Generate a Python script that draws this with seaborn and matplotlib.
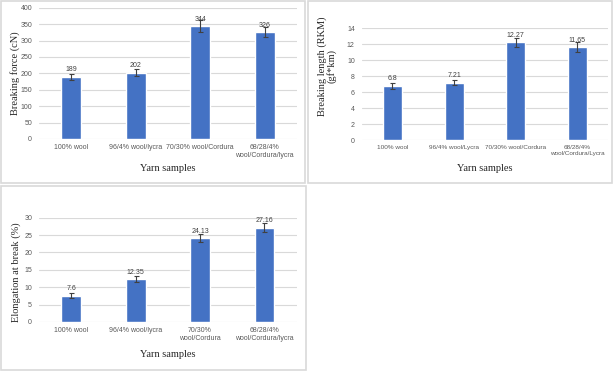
import matplotlib
matplotlib.use("Agg")
import matplotlib.pyplot as plt
import seaborn as sns
import numpy as np
from matplotlib.patches import Rectangle

sns.set_theme(style="white")
plt.rcParams['font.family'] = ['Liberation Sans', 'DejaVu Sans']

# ---- data ----
cats1 = ["100% wool", "96/4% wool/lycra", "70/30% wool/Cordura", "68/28/4%\nwool/Cordura/lycra"]
force = [189, 202, 344, 326]
force_err = [10, 10, 18, 16]
force_lbl = ["189", "202", "344", "326"]
force_ticks = [0, 50, 100, 150, 200, 250, 300, 350, 400]

cats2 = ["100% wool", "96/4% wool/Lycra", "70/30% wool/Cordura", "68/28/4%\nwool/Cordura/Lycra"]
rkm = [6.8, 7.21, 12.27, 11.65]
rkm_err = [0.4, 0.3, 0.55, 0.65]
rkm_lbl = ["6.8", "7.21", "12.27", "11.65"]
rkm_ticks = [0, 2, 4, 6, 8, 10, 12, 14]

cats3 = ["100% wool", "96/4% wool/lycra", "70/30%\nwool/Cordura", "68/28/4%\nwool/Cordura/lycra"]
elong = [7.6, 12.35, 24.13, 27.16]
elong_err = [0.6, 0.8, 1.2, 1.35]
elong_lbl = ["7.6", "12.35", "24.13", "27.16"]
elong_ticks = [0, 5, 10, 15, 20, 25, 30]

BAR = "#4472C4"
GRID = "#D9D9D9"
TXT = "#595959"
DARK = "#404040"

W, H = 616, 378
fig = plt.figure(figsize=(W / 100, H / 100), dpi=100)


def px_axes(x0, y_top, x1, y_bot):
    return fig.add_axes([x0 / W, 1 - y_bot / H, (x1 - x0) / W, (y_bot - y_top) / H])


def border(x0, y0, x1, y1):
    fig.patches.append(Rectangle((x0 / W, 1 - y1 / H), (x1 - x0) / W, (y1 - y0) / H,
                                 transform=fig.transFigure, fill=False,
                                 edgecolor=GRID, lw=1.2))


def panel(ax, cats, vals, errs, lbls, ticks, ylabel, ylc, xly, xfs=5):
    sns.barplot(x=cats, y=vals, color=BAR, width=0.31, ax=ax, saturation=1, zorder=3)
    ax.errorbar(np.arange(len(vals)), vals, yerr=errs, fmt="none", ecolor=DARK,
                elinewidth=0.8, capsize=1.8, capthick=0.8, zorder=4)
    for i, (v, t) in enumerate(zip(vals, lbls)):
        ax.annotate(t, (i, v), xytext=(0, 2.5), textcoords="offset points",
                    ha="center", va="bottom", fontsize=5, color=DARK, zorder=5)
    ax.set_xlim(-0.5, len(vals) - 0.5)
    ax.set_ylim(ticks[0], ticks[-1])
    ax.set_yticks(ticks)
    ax.set_yticklabels([str(t) for t in ticks])
    ax.yaxis.grid(True, color=GRID, lw=0.8, zorder=0)
    ax.set_axisbelow(True)
    for s in ax.spines.values():
        s.set_visible(False)
    ax.tick_params(axis="both", length=0, labelsize=5, labelcolor=TXT)
    ax.tick_params(axis="x", labelsize=xfs)
    ax.tick_params(axis="y", pad=5)
    ax.tick_params(axis="x", pad=3.5)
    ax.set_xlabel("Yarn samples", family="Liberation Serif", fontsize=7.5, color="#262626")
    ax.set_ylabel(ylabel, family="Liberation Serif", fontsize=7.5, color="#262626",
                  multialignment="center", linespacing=0.95)
    ax.xaxis.set_label_coords(0.5, xly)
    ax.xaxis.label.set_va("center")
    ax.yaxis.set_label_coords(*ylc)
    ax.yaxis.label.set_va("center")
    ax.patch.set_alpha(0)


border(1, 1, 305, 183)
border(308, 1, 611.5, 182.5)
border(1, 186, 306, 370)

ax1 = px_axes(39, 7.7, 297, 139)
panel(ax1, cats1, force, force_err, force_lbl, force_ticks,
      "Breaking force (cN)", (-0.093, 0.5), -0.221)

ax2 = px_axes(361.7, 28.3, 608, 140.3)
panel(ax2, cats2, rkm, rkm_err, rkm_lbl, rkm_ticks,
      "Breaking length (RKM)\n(gf*km)", (-0.14, 0.66), -0.256, xfs=4.6)

ax3 = px_axes(39, 217.7, 296.7, 322)
panel(ax3, cats3, elong, elong_err, elong_lbl, elong_ticks,
      "Elongation at break (%)", (-0.089, 0.48), -0.307)

fig.savefig("out.png", dpi=100, facecolor="white")
